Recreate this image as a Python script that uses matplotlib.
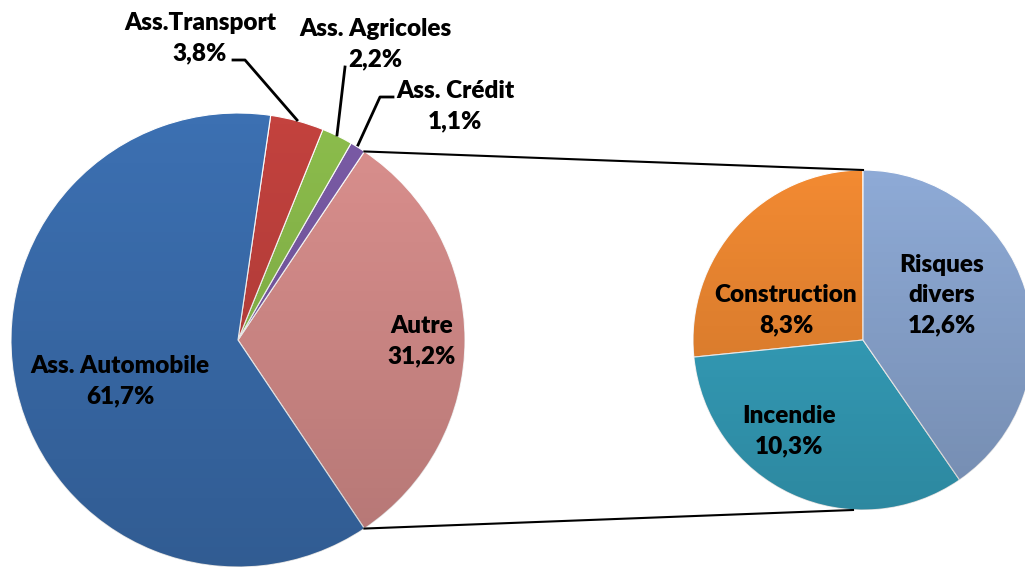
import numpy as np
import matplotlib.pyplot as plt
from matplotlib.patches import Circle

# camembert principal (ordre anti-horaire, en partant de "Autre")
main_labels = ["Autre", "Ass. Crédit", "Ass. Agricoles", "Ass.Transport", "Ass. Automobile"]
main_values = [31.2, 1.1, 2.2, 3.8, 61.7]
main_colors = ["#DB908E", "#7A5BA6", "#8CBD4C", "#C3423E", "#3C70B2"]

# détail de "Autre"
sub_labels = ["Construction", "Incendie", "Risques\ndivers"]
sub_values = [8.3, 10.3, 12.6]
sub_colors = ["#F28A32", "#37A6C3", "#8EAAD6"]

W, H = 1025, 567
fig = plt.figure(figsize=(10.25, 5.67), dpi=100)
ax = fig.add_axes([0, 0, 1, 1])

def Y(y):
    return H - y

c1, r1 = (238, Y(340)), 227
c2, r2 = (863, Y(340)), 170

start = -main_values[0] / sum(main_values) * 180
w1, _ = ax.pie(main_values, colors=main_colors, startangle=start, center=c1, radius=r1,
               wedgeprops=dict(edgecolor="#ffffff", linewidth=0.8), frame=True)
w2, _ = ax.pie(sub_values, colors=sub_colors, startangle=90, center=c2, radius=r2,
               wedgeprops=dict(edgecolor="#ffffff", linewidth=0.8), frame=True)

# léger dégradé vertical pour l'effet de relief
grad = np.linspace(0, 1, 256).reshape(-1, 1)
for c, r in [(c1, r1), (c2, r2)]:
    rgba = np.zeros((256, 1, 4))
    rgba[:, :, 3] = 0.18 * grad
    im = ax.imshow(rgba, extent=[c[0] - r, c[0] + r, c[1] - r, c[1] + r], origin="upper",
                   zorder=3, aspect="auto")
    im.set_clip_path(Circle(c, r, transform=ax.transData))

# lignes de liaison
a0 = np.radians(start)
a1 = np.radians(start + main_values[0] / sum(main_values) * 360)
ax.plot([c1[0] + r1 * np.cos(a1), c2[0]], [c1[1] + r1 * np.sin(a1), c2[1] + r2], color="black", lw=1.5, zorder=4)
ax.plot([c1[0] + r1 * np.cos(a0), c2[0] - 10], [c1[1] + r1 * np.sin(a0), c2[1] - r2], color="black", lw=1.5, zorder=4)

font = dict(family=["Lato", "DejaVu Sans"], fontweight="heavy", fontsize=17.5, ha="center",
            va="center", color="black", linespacing=1.45, zorder=5)

def lab(i, vals, labels):
    return labels[i] + "\n" + ("%.1f%%" % vals[i]).replace(".", ",")

# étiquettes internes
ax.text(120, Y(381), lab(4, main_values, main_labels), **font)
ax.text(422, Y(341), lab(0, main_values, main_labels), **font)
ax.text(786, Y(310), lab(0, sub_values, sub_labels), **font)
ax.text(789, Y(431), lab(1, sub_values, sub_labels), **font)
ax.text(942, Y(295), lab(2, sub_values, sub_labels), **font)

# étiquettes externes avec repères
ax.text(200, Y(38), lab(3, main_values, main_labels), **font)
ax.plot([233, 245, 297], [Y(60), Y(60), Y(120)], color="black", lw=2, zorder=4)
ax.text(375, Y(44), lab(2, main_values, main_labels), **font)
ax.plot([345, 337], [Y(67), Y(135)], color="black", lw=2, zorder=4)
ax.text(455, Y(106), lab(1, main_values, main_labels), **font)
ax.plot([393, 380, 358], [Y(97), Y(97), Y(145)], color="black", lw=2, zorder=4)

ax.set_xlim(0, W)
ax.set_ylim(0, H)
ax.set_aspect("equal")
ax.axis("off")
fig.savefig("out.png", dpi=100)
